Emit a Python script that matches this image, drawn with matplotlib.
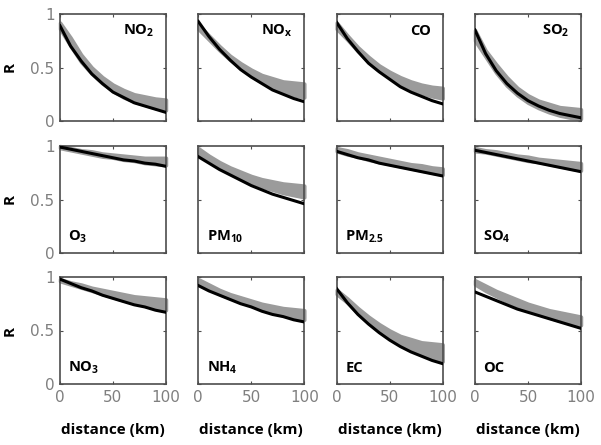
"""Distance decay of correlation R for 12 pollutants (3x4 grid)."""

import matplotlib
matplotlib.use("Agg")
import matplotlib.pyplot as plt
import numpy as np

plt.rcParams["mathtext.fontset"] = "custom"
plt.rcParams["mathtext.rm"] = "Open Sans:bold"
plt.rcParams["mathtext.bf"] = "Open Sans:bold"
plt.rcParams["mathtext.default"] = "rm"

# distances where values were read (km)
dist = [0, 10, 20, 30, 40, 50, 60, 70, 80, 90, 100]

# ── row 1 ──────────────────────────────────────────────
no2_fit = [0.89, 0.70, 0.56, 0.44, 0.35, 0.27, 0.22, 0.17, 0.14, 0.11, 0.08]
no2_hi = [0.92, 0.78, 0.62, 0.50, 0.41, 0.34, 0.29, 0.25, 0.23, 0.21, 0.20]
no2_lo = [0.86, 0.70, 0.55, 0.44, 0.35, 0.28, 0.22, 0.18, 0.15, 0.12, 0.10]

nox_fit = [0.93, 0.79, 0.67, 0.57, 0.48, 0.41, 0.35, 0.29, 0.25, 0.21, 0.18]
nox_hi = [0.90, 0.80, 0.70, 0.61, 0.54, 0.48, 0.43, 0.40, 0.37, 0.36, 0.35]
nox_lo = [0.86, 0.76, 0.66, 0.57, 0.49, 0.42, 0.36, 0.31, 0.27, 0.24, 0.22]

co_fit = [0.92, 0.77, 0.65, 0.54, 0.46, 0.39, 0.32, 0.27, 0.23, 0.19, 0.16]
co_hi = [0.92, 0.80, 0.69, 0.60, 0.52, 0.46, 0.41, 0.37, 0.34, 0.32, 0.31]
co_lo = [0.86, 0.76, 0.65, 0.55, 0.47, 0.41, 0.35, 0.30, 0.26, 0.23, 0.21]

so2_fit = [0.85, 0.63, 0.47, 0.35, 0.26, 0.19, 0.14, 0.10, 0.07, 0.05, 0.03]
so2_hi = [0.85, 0.66, 0.53, 0.41, 0.31, 0.24, 0.19, 0.16, 0.13, 0.12, 0.11]
so2_lo = [0.75, 0.60, 0.45, 0.33, 0.24, 0.17, 0.12, 0.08, 0.05, 0.03, 0.02]

# ── row 2 ──────────────────────────────────────────────
o3_fit = [0.99, 0.97, 0.95, 0.93, 0.91, 0.89, 0.87, 0.86, 0.84, 0.83, 0.81]
o3_hi = [1.00, 0.98, 0.96, 0.95, 0.93, 0.92, 0.91, 0.90, 0.89, 0.89, 0.89]
o3_lo = [0.98, 0.96, 0.94, 0.92, 0.90, 0.89, 0.87, 0.86, 0.84, 0.83, 0.82]

pm10_fit = [0.90, 0.84, 0.78, 0.73, 0.68, 0.63, 0.59, 0.55, 0.52, 0.49, 0.46]
pm10_hi = [0.98, 0.91, 0.85, 0.80, 0.76, 0.72, 0.69, 0.67, 0.65, 0.64, 0.63]
pm10_lo = [0.93, 0.87, 0.81, 0.75, 0.70, 0.66, 0.62, 0.59, 0.56, 0.54, 0.52]

pm25_fit = [0.95, 0.92, 0.89, 0.87, 0.84, 0.82, 0.80, 0.78, 0.76, 0.74, 0.72]
pm25_hi = [0.98, 0.96, 0.93, 0.91, 0.89, 0.87, 0.85, 0.83, 0.82, 0.80, 0.79]
pm25_lo = [0.95, 0.92, 0.90, 0.87, 0.85, 0.83, 0.81, 0.79, 0.77, 0.75, 0.73]

so4_fit = [0.96, 0.94, 0.92, 0.90, 0.88, 0.86, 0.84, 0.82, 0.80, 0.78, 0.76]
so4_hi = [0.98, 0.96, 0.95, 0.93, 0.91, 0.90, 0.88, 0.87, 0.86, 0.85, 0.84]
so4_lo = [0.95, 0.94, 0.92, 0.90, 0.88, 0.86, 0.85, 0.83, 0.81, 0.79, 0.77]

# ── row 3 ──────────────────────────────────────────────
no3_fit = [0.98, 0.94, 0.90, 0.87, 0.83, 0.80, 0.77, 0.74, 0.72, 0.69, 0.67]
no3_hi = [0.98, 0.95, 0.93, 0.90, 0.88, 0.86, 0.84, 0.82, 0.81, 0.80, 0.79]
no3_lo = [0.96, 0.93, 0.90, 0.87, 0.84, 0.81, 0.78, 0.76, 0.73, 0.71, 0.69]

nh4_fit = [0.92, 0.87, 0.83, 0.79, 0.75, 0.72, 0.68, 0.65, 0.63, 0.60, 0.58]
nh4_hi = [0.98, 0.93, 0.88, 0.84, 0.81, 0.78, 0.75, 0.73, 0.71, 0.70, 0.69]
nh4_lo = [0.94, 0.89, 0.84, 0.80, 0.77, 0.73, 0.70, 0.67, 0.64, 0.62, 0.60]

ec_fit = [0.89, 0.76, 0.65, 0.56, 0.48, 0.41, 0.35, 0.30, 0.26, 0.22, 0.19]
ec_hi = [0.88, 0.80, 0.71, 0.63, 0.56, 0.50, 0.45, 0.42, 0.39, 0.38, 0.37]
ec_lo = [0.84, 0.76, 0.66, 0.57, 0.49, 0.43, 0.37, 0.32, 0.28, 0.24, 0.21]

oc_fit = [0.86, 0.82, 0.78, 0.74, 0.70, 0.67, 0.64, 0.61, 0.58, 0.55, 0.52]
oc_hi = [0.97, 0.92, 0.87, 0.83, 0.79, 0.75, 0.72, 0.69, 0.67, 0.65, 0.63]
oc_lo = [0.93, 0.87, 0.82, 0.77, 0.73, 0.69, 0.66, 0.62, 0.59, 0.57, 0.55]

labels = [
    r"NO$_2$", r"NO$_\mathrm{x}$", "CO", r"SO$_2$",
    r"O$_3$", r"PM$_{10}$", r"PM$_{2.5}$", r"SO$_4$",
    r"NO$_3$", r"NH$_4$", "EC", "OC",
]
panels = [
    (no2_fit, no2_lo, no2_hi), (nox_fit, nox_lo, nox_hi),
    (co_fit, co_lo, co_hi), (so2_fit, so2_lo, so2_hi),
    (o3_fit, o3_lo, o3_hi), (pm10_fit, pm10_lo, pm10_hi),
    (pm25_fit, pm25_lo, pm25_hi), (so4_fit, so4_lo, so4_hi),
    (no3_fit, no3_lo, no3_hi), (nh4_fit, nh4_lo, nh4_hi),
    (ec_fit, ec_lo, ec_hi), (oc_fit, oc_lo, oc_hi),
]

W, H = 601, 445
fig = plt.figure(figsize=(W / 100, H / 100), dpi=100)

col_left = [60, 198.3, 336.7, 475]
row_bottom = [121, 253, 384]
ax_w, ax_h = 106, 107
spine_c = "#4d4d4d"
tick_c = "#7f7f7f"

for i, (label, (fit, lo, hi)) in enumerate(zip(labels, panels)):
    r, c = divmod(i, 4)
    ax = fig.add_axes([col_left[c] / W, 1 - row_bottom[r] / H, ax_w / W, ax_h / H])
    ax.fill_between(dist, lo, hi, color="#9b9b9b", edgecolor="#9b9b9b",
                    linewidth=2.5, clip_on=False, zorder=2)
    ax.plot(dist, fit, color="black", linewidth=2.2, zorder=3)
    ax.set_xlim(0, 100)
    ax.set_ylim(0, 1)
    ax.set_xticks([0, 50, 100])
    ax.set_yticks([0, 0.5, 1])
    ax.tick_params(direction="in", length=2.5, width=0.8, color=spine_c,
                   top=True, right=True, labelsize=11, labelcolor=tick_c, pad=4)
    for s in ax.spines.values():
        s.set_color(spine_c)
        s.set_linewidth(1.2)
    if c == 0:
        ax.set_yticklabels(["0", "0.5", "1"])
        ax.set_ylabel("R", fontsize=11, fontweight="bold", family="Open Sans",
                      labelpad=10)
    else:
        ax.set_yticklabels([])
    if r == 2:
        ax.set_xticklabels(["0", "50", "100"])
        ax.set_xlabel("distance (km)", fontsize=11, fontweight="bold",
                      family="Open Sans", labelpad=13)
    else:
        ax.set_xticklabels([])
    if r == 0:
        ax.text(0.89, 0.84, label, transform=ax.transAxes, ha="right",
                va="center", fontsize=10.5, fontweight="bold", family="Open Sans")
    else:
        ax.text(0.08, 0.15, label, transform=ax.transAxes, ha="left",
                va="center", fontsize=10.5, fontweight="bold", family="Open Sans")

fig.savefig("out.png", dpi=100)
